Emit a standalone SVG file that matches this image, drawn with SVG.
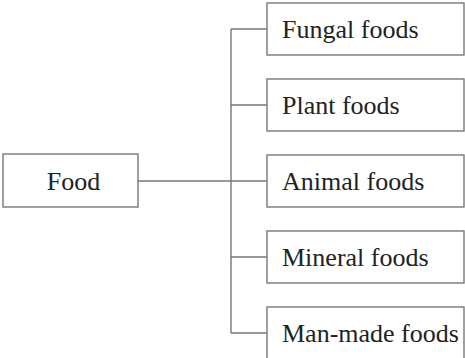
<svg xmlns="http://www.w3.org/2000/svg" width="465" height="358" viewBox="0 0 465 358">
<style>
.box{fill:#fff;stroke:#777;stroke-width:1.4}
.lbl{font-family:"Liberation Serif","Times New Roman",serif;font-size:26px;fill:#222}
.con{fill:none;stroke:#777;stroke-width:1.4}
</style>
<rect width="465" height="358" fill="#fff"/>
<g id="connectors">
<line class="con" x1="138" y1="181" x2="267" y2="181"/>
<line class="con" x1="231" y1="29" x2="231" y2="333"/>
<line class="con" x1="231" y1="29" x2="267" y2="29"/>
<line class="con" x1="231" y1="105" x2="267" y2="105"/>
<line class="con" x1="231" y1="257" x2="267" y2="257"/>
<line class="con" x1="231" y1="333" x2="267" y2="333"/>
</g>
<g id="food">
<rect class="box" x="3" y="154" width="135" height="53"/>
<text class="lbl" x="73.5" y="190" text-anchor="middle">Food</text>
</g>
<g id="fungal">
<rect class="box" x="267" y="3" width="197" height="52"/>
<text class="lbl" x="282" y="38">Fungal foods</text>
</g>
<g id="plant">
<rect class="box" x="267" y="79" width="197" height="52"/>
<text class="lbl" x="282" y="114">Plant foods</text>
</g>
<g id="animal">
<rect class="box" x="267" y="155" width="197" height="52"/>
<text class="lbl" x="282" y="190">Animal foods</text>
</g>
<g id="mineral">
<rect class="box" x="267" y="231" width="197" height="52"/>
<text class="lbl" x="282" y="266">Mineral foods</text>
</g>
<g id="manmade">
<rect class="box" x="267" y="307" width="197" height="52"/>
<text class="lbl" x="282" y="342">Man-made foods</text>
</g>
</svg>
